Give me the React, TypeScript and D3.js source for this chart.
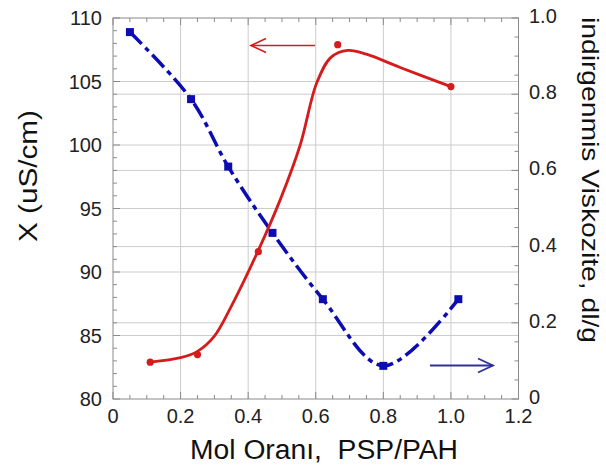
import React from "react";
import * as d3 from "d3";

// Conductivity (left axis) markers
const redX = [0.11, 0.25, 0.43, 0.665, 1.0];
const redY = [82.9, 83.5, 91.6, 107.9, 104.6];
// Fitted conductivity curve
const redFitX = [0.11, 0.2, 0.25, 0.3, 0.35, 0.43, 0.495, 0.554, 0.603, 0.645, 0.695, 0.75, 0.85, 1.0];
const redFitY = [82.9, 83.25, 83.75, 84.95, 87.3, 91.7, 95.7, 100.0, 104.9, 106.9, 107.45, 107.15, 106.1, 104.6];
// Viscosity (right axis)
const blueX = [0.05, 0.231, 0.341, 0.472, 0.621, 0.8, 1.022];
const blueY = [0.963, 0.787, 0.61, 0.436, 0.262, 0.087, 0.262];

const xTicks = [0, 0.2, 0.4, 0.6, 0.8, 1.0, 1.2];
const xTickLabels = ["0", "0.2", "0.4", "0.6", "0.8", "1.0", "1.2"];
const leftTicks = [80, 85, 90, 95, 100, 105, 110];
const rightTicks = [0, 0.2, 0.4, 0.6, 0.8, 1.0];
const rightTickLabels = ["0", "0.2", "0.4", "0.6", "0.8", "1.0"];

const W = 606, H = 470;
const L = 113, R = 518.5, T = 18, B = 399;
const font = "Liberation Sans, Arial, sans-serif";

export default function App() {
  const x = d3.scaleLinear().domain([0, 1.2]).range([L, R]);
  const yl = d3.scaleLinear().domain([80, 110]).range([B, T]);
  const yr = d3.scaleLinear().domain([0, 1]).range([B, T]);

  const redLine = d3
    .line<number>()
    .x((_, i) => x(redFitX[i]))
    .y((d) => yl(d))
    .curve(d3.curveCatmullRom.alpha(0.5))(redFitY)!;
  const blueLine = d3
    .line<number>()
    .x((_, i) => x(blueX[i]))
    .y((d) => yr(d))
    .curve(d3.curveCatmullRom.alpha(0.5))(blueY)!;

  const xMinor = d3.range(0, 1.2001, 0.05);
  const lMinor = d3.range(80, 110.001, 1);
  const rMinor = d3.range(0, 1.0001, 0.05);
  const grid = "#cccccc";
  const axisC = "#8a8a8a";
  const red = "#d41c1c";
  const blue = "#0c0cb0";

  return (
    <svg width={W} height={H} style={{ position: "absolute", left: 0, top: 0 }}>
      <rect width={W} height={H} fill="#fff" />
      {/* grid */}
      {xTicks.slice(1, -1).map((t) => (
        <line key={"gx" + t} x1={x(t)} x2={x(t)} y1={T} y2={B} stroke={grid} strokeWidth={1} />
      ))}
      {leftTicks.slice(1, -1).map((t) => (
        <line key={"gl" + t} x1={L} x2={R} y1={yl(t)} y2={yl(t)} stroke={grid} strokeWidth={1} />
      ))}
      {rightTicks.slice(1, -1).map((t) => (
        <line key={"gr" + t} x1={L} x2={R} y1={yr(t)} y2={yr(t)} stroke={grid} strokeWidth={1} />
      ))}
      {/* ticks */}
      {xMinor.map((t, i) => {
        const major = i % 4 === 0;
        const len = major ? 7 : 4;
        return (
          <g key={"xt" + i}>
            <line x1={x(t)} x2={x(t)} y1={B} y2={B - len} stroke={axisC} />
            <line x1={x(t)} x2={x(t)} y1={T} y2={T + len} stroke={axisC} />
          </g>
        );
      })}
      {lMinor.map((t, i) => (
        <line key={"lt" + i} x1={L} x2={L + (i % 5 === 0 ? 7 : 4)} y1={yl(t)} y2={yl(t)} stroke={axisC} />
      ))}
      {rMinor.map((t, i) => (
        <line key={"rt" + i} x1={R} x2={R - (i % 4 === 0 ? 7 : 4)} y1={yr(t)} y2={yr(t)} stroke={axisC} />
      ))}
      <rect x={L} y={T} width={R - L} height={B - T} fill="none" stroke={axisC} strokeWidth={1} />

      {/* tick labels */}
      {xTicks.map((t, i) => (
        <text key={"xl" + i} x={x(t)} y={423} textAnchor="middle" fontFamily={font} fontSize={20} fill="#222">
          {xTickLabels[i]}
        </text>
      ))}
      {leftTicks.map((t) => (
        <text key={"ll" + t} x={102} y={yl(t)} dy="0.35em" textAnchor="end" fontFamily={font} fontSize={20} fill="#222">
          {t}
        </text>
      ))}
      {rightTicks.map((t, i) => (
        <text key={"rl" + i} x={529} y={yr(t) - 2} dy="0.35em" textAnchor="start" fontFamily={font} fontSize={20} fill="#222">
          {rightTickLabels[i]}
        </text>
      ))}

      {/* axis titles */}
      <text transform={`translate(37,176) rotate(-90)`} textAnchor="middle" fontFamily={font} fontSize={25}
        textLength={132} lengthAdjust="spacingAndGlyphs" fill="#111">
        X (uS/cm)
      </text>
      <text transform={`translate(582,180) rotate(90)`} textAnchor="middle" fontFamily={font} fontSize={24}
        textLength={326} lengthAdjust="spacingAndGlyphs" fill="#111">
        indirgenmis Viskozite, dl/g
      </text>
      <text x={324} y={459} textAnchor="middle" fontFamily={font} fontSize={27} fill="#111"
        textLength={268} lengthAdjust="spacingAndGlyphs" style={{ whiteSpace: "pre" }}>
        Mol Oranı,  PSP/PAH
      </text>

      {/* series */}
      <path d={blueLine} fill="none" stroke={blue} strokeWidth={3.5} strokeDasharray="17,5,5,5" />
      {blueX.map((v, i) => (
        <rect key={"bs" + i} x={x(v) - 4} y={yr(blueY[i]) - 4} width={8} height={8} fill={blue} />
      ))}
      <path d={redLine} fill="none" stroke={red} strokeWidth={2.8} />
      {redX.map((v, i) => (
        <circle key={"rc" + i} cx={x(v)} cy={yl(redY[i])} r={3.6} fill={red} />
      ))}

      {/* arrows */}
      <g stroke={red} strokeWidth={1.6} fill="none">
        <line x1={251} x2={315} y1={45.5} y2={45.5} />
        <polyline points="266,38.5 251,45.5 266,52.5" />
      </g>
      <g stroke="#30309a" strokeWidth={1.8} fill="none">
        <line x1={430} x2={493} y1={365.5} y2={365.5} />
        <polyline points="478,358.5 493,365.5 478,372.5" />
      </g>
    </svg>
  );
}
